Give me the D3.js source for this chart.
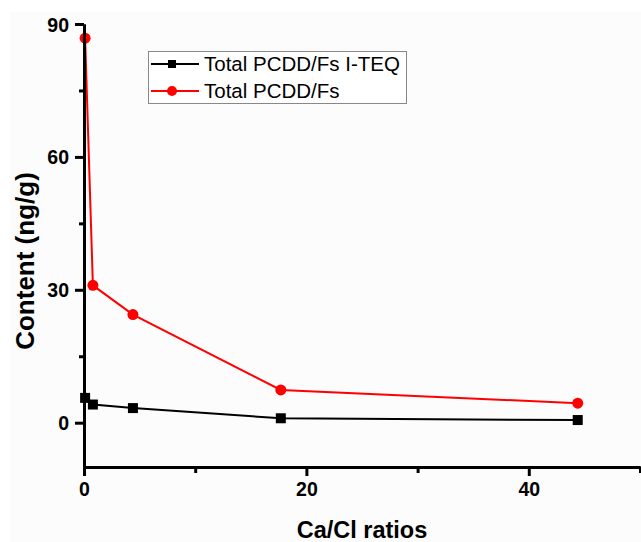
<!DOCTYPE html>
<html lang="en">
	<head>
		<meta charset="utf-8">
		<title>PCDD/Fs content vs Ca/Cl ratio</title>
		<script type="text/javascript" src="https://d3js.org/d3.v7.min.js"></script>
		<style type="text/css">
			body { margin: 0; background: #ffffff; }
			svg { display: block; font-family: "Liberation Sans", Arial, sans-serif; }
		</style>
	</head>
	<body>
		<div id="chart"></div>
		<script type="text/javascript">

		//Ca/Cl ratios (x values)
		var ratios = [0.1, 0.8, 4.4, 17.7, 44.4];
		//Total PCDD/Fs I-TEQ
		var teqValues = [5.6, 4.1, 3.3, 1.0, 0.6];
		//Total PCDD/Fs
		var totalValues = [86.8, 31.0, 24.4, 7.4, 4.4];

		var seriesNames = ["Total PCDD/Fs I-TEQ", "Total PCDD/Fs"];
		var xMajorTicks = [0, 20, 40];
		var xMinorTicks = [10, 30, 50];
		var yMajorTicks = [0, 30, 60, 90];
		var yMinorTicks = [15, 45, 75];

		//Width and height
		var w = 641;
		var h = 542;

		var x = d3.scaleLinear().domain([0, 50]).range([84, 640]);
		var y = d3.scaleLinear().domain([-10, 90]).range([467, 24]);

		var svg = d3.select("#chart")
					.append("svg")
					.attr("width", w)
					.attr("height", h);

		//faint paper background
		svg.append("rect")
			.attr("x", 10).attr("y", 12)
			.attr("width", w - 10).attr("height", h - 12)
			.attr("fill", "#fbfcfb");

		//series data
		var teq = ratios.map(function(r, i) { return [r, teqValues[i]]; });
		var total = ratios.map(function(r, i) { return [r, totalValues[i]]; });

		var line = d3.line()
					.x(function(d) { return x(d[0]); })
					.y(function(d) { return y(d[1]); });

		svg.append("path")
			.attr("d", line(teq))
			.attr("fill", "none")
			.attr("stroke", "#000")
			.attr("stroke-width", 2);

		svg.selectAll("rect.teq")
			.data(teq)
			.enter()
			.append("rect")
			.attr("class", "teq")
			.attr("x", function(d) { return x(d[0]) - 5; })
			.attr("y", function(d) { return y(d[1]) - 5; })
			.attr("width", 10)
			.attr("height", 10)
			.attr("fill", "#000");

		svg.append("path")
			.attr("d", line(total))
			.attr("fill", "none")
			.attr("stroke", "#ff0000")
			.attr("stroke-width", 2);

		svg.selectAll("circle.total")
			.data(total)
			.enter()
			.append("circle")
			.attr("class", "total")
			.attr("cx", function(d) { return x(d[0]); })
			.attr("cy", function(d) { return y(d[1]); })
			.attr("r", 5.5)
			.attr("fill", "#ff0000");

		//Axes
		function styleAxis(g) {
			g.select(".domain").attr("stroke", "#000").attr("stroke-width", 3);
			g.selectAll(".tick line").attr("stroke", "#000").attr("stroke-width", 3);
			g.selectAll(".tick text")
				.attr("fill", "#000")
				.style("font-size", "19.5px")
				.style("font-weight", "bold");
		}

		var yAxisMinor = svg.append("g")
			.attr("transform", "translate(84,0)")
			.call(d3.axisLeft(y).tickValues(yMinorTicks).tickSize(5).tickSizeOuter(0).tickFormat(""));
		styleAxis(yAxisMinor);

		var yAxis = svg.append("g")
			.attr("transform", "translate(84,0)")
			.call(d3.axisLeft(y).tickValues(yMajorTicks).tickSize(9).tickSizeOuter(0).tickPadding(6));
		styleAxis(yAxis);
		yAxis.selectAll(".tick text").attr("dy", "0.36em");

		var xAxisMinor = svg.append("g")
			.attr("transform", "translate(0,467)")
			.call(d3.axisBottom(x).tickValues(xMinorTicks).tickSize(6).tickSizeOuter(0).tickFormat(""));
		styleAxis(xAxisMinor);

		var xAxis = svg.append("g")
			.attr("transform", "translate(0,467)")
			.call(d3.axisBottom(x).tickValues(xMajorTicks).tickSize(9).tickSizeOuter(0).tickPadding(6));
		styleAxis(xAxis);

		//Axis titles
		svg.append("text")
			.attr("x", 362)
			.attr("y", 538)
			.attr("text-anchor", "middle")
			.style("font-size", "23.5px")
			.style("font-weight", "bold")
			.text("Ca/Cl ratios");

		svg.append("text")
			.attr("transform", "translate(34,261) rotate(-90)")
			.attr("text-anchor", "middle")
			.style("font-size", "26px")
			.style("font-weight", "bold")
			.text("Content (ng/g)");

		//Legend
		var legend = svg.append("g");
		legend.append("rect")
			.attr("x", 148.5).attr("y", 51.5)
			.attr("width", 258).attr("height", 52)
			.attr("fill", "#fff")
			.attr("stroke", "#888")
			.attr("stroke-width", 1);

		var rows = [64, 91];
		seriesNames.forEach(function(name, i) {
			var color = i === 0 ? "#000" : "#ff0000";
			legend.append("line")
				.attr("x1", 151).attr("x2", 199)
				.attr("y1", rows[i]).attr("y2", rows[i])
				.attr("stroke", color)
				.attr("stroke-width", 2);
			if (i === 0) {
				legend.append("rect")
					.attr("x", 168).attr("y", rows[i] - 4)
					.attr("width", 8).attr("height", 8)
					.attr("fill", color);
			} else {
				legend.append("circle")
					.attr("cx", 172).attr("cy", rows[i])
					.attr("r", 5)
					.attr("fill", color);
			}
			legend.append("text")
				.attr("x", 204)
				.attr("y", rows[i] + 7)
				.style("font-size", "20.5px")
				.text(name);
		});
		</script>
	</body>
</html>
